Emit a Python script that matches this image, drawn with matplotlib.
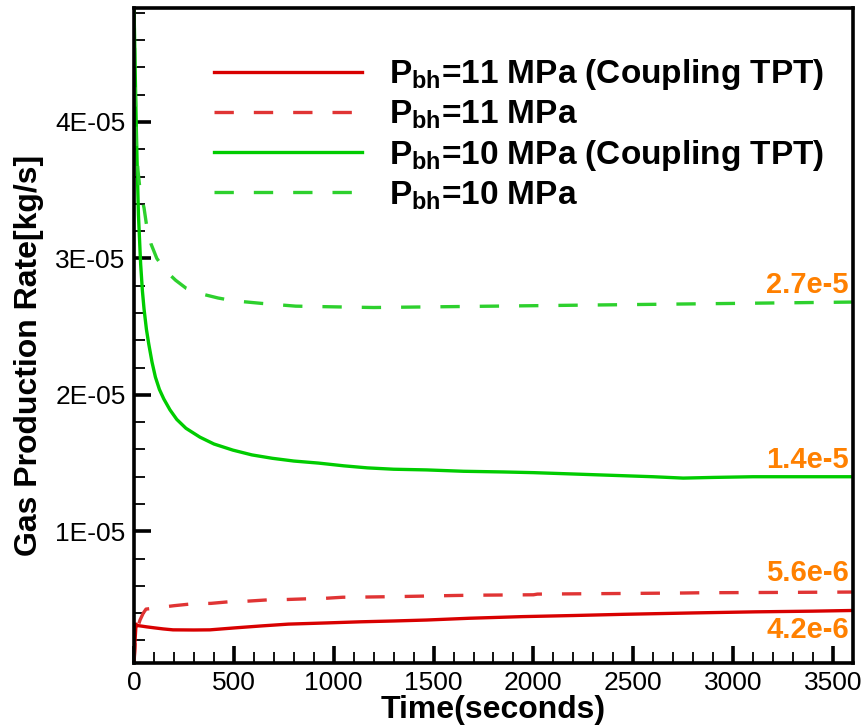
import matplotlib
matplotlib.use("Agg")
import matplotlib.pyplot as plt
from matplotlib import font_manager
from matplotlib.ticker import MultipleLocator, FixedLocator, FuncFormatter

# ---------------- data ----------------
t_g10c = [0, 3, 6, 10, 15, 22, 33, 42, 50, 62, 74, 90, 107, 127, 149, 180, 214, 260, 330,
          400, 495, 590, 693, 800, 924, 1050, 1168, 1300, 1465, 1650, 1850,
          2000, 2200, 2400, 2600, 2750, 2900, 3100, 3300, 3600]
v_g10c = [4.83, 4.6, 4.35, 4.05, 3.72, 3.32, 2.96, 2.76, 2.63, 2.48, 2.37, 2.24, 2.13,
          2.04, 1.97, 1.89, 1.82, 1.755, 1.69, 1.64, 1.595, 1.56, 1.535, 1.515, 1.50,
          1.48, 1.465, 1.455, 1.45, 1.44, 1.435, 1.43, 1.42, 1.41, 1.40, 1.39, 1.395,
          1.40, 1.40, 1.40]  # x1e-5

t_g10 = [0, 5, 12, 20, 30, 50, 64, 84, 114, 158, 208, 262, 337, 420, 495, 640, 810,
         1000, 1200, 1500, 1800, 2100, 2400, 2700, 3000, 3300, 3600]
v_g10 = [4.83, 4.3, 3.8, 3.64, 3.5, 3.37, 3.23, 3.11, 3.0, 2.91, 2.84, 2.78, 2.74,
         2.71, 2.69, 2.67, 2.65, 2.645, 2.64, 2.645, 2.65, 2.655, 2.66, 2.665, 2.67,
         2.675, 2.68]  # x1e-5

t_r11 = [0, 10, 30, 46, 60, 120, 145, 200, 300, 385, 485, 565, 673, 757, 856, 945, 1045,
         1134, 1233, 1332, 1614, 1713, 2000, 2020, 2400, 2752, 2851, 3200, 3600]
v_r11 = [0.4, 2.6, 3.5, 4.0, 4.3, 4.4, 4.45, 4.55, 4.7, 4.72, 4.85, 4.88, 4.98, 5.0, 5.05,
         5.08, 5.17, 5.18, 5.2, 5.22, 5.3, 5.32, 5.35, 5.4, 5.44, 5.48, 5.5, 5.52, 5.55]  # x1e-6

t_r11c = [0, 5, 10, 15, 40, 63, 100, 145, 195, 300, 380, 510, 640, 773, 970, 1135, 1300,
          1465, 1680, 1946, 2200, 2455, 2800, 3113, 3400, 3600]
v_r11c = [0.4, 2.0, 3.2, 3.1, 3.05, 3.0, 2.93, 2.85, 2.78, 2.77, 2.78, 2.93, 3.07, 3.2,
          3.29, 3.37, 3.43, 3.5, 3.63, 3.75, 3.83, 3.92, 4.02, 4.1, 4.15, 4.2]  # x1e-6

series_labels = [r"P$_{\mathbf{bh}}$=11 MPa (Coupling TPT)",
                 r"P$_{\mathbf{bh}}$=11 MPa",
                 r"P$_{\mathbf{bh}}$=10 MPa (Coupling TPT)",
                 r"P$_{\mathbf{bh}}$=10 MPa"]
end_texts = ["2.7e-5", "1.4e-5", "5.6e-6", "4.2e-6"]
end_values = [2.7e-5, 1.4e-5, 5.6e-6, 4.2e-6]
y_major = [1e-5, 2e-5, 3e-5, 4e-5]
x_major = [0, 500, 1000, 1500, 2000, 2500, 3000, 3500]

# ---------------- fonts ----------------
def pick(fam, fallback):
    try:
        font_manager.findfont(font_manager.FontProperties(family=fam), fallback_to_default=False)
        return fam
    except Exception:
        return fallback

FONT = pick("Liberation Sans Narrow", "Liberation Sans")
plt.rcParams['font.family'] = [FONT, 'DejaVu Sans']
plt.rcParams['mathtext.fontset'] = 'custom'
plt.rcParams['mathtext.rm'] = FONT
plt.rcParams['mathtext.bf'] = FONT + ':bold'

# ---------------- figure ----------------
fig = plt.figure(figsize=(8.62, 7.25), dpi=100)
ax = fig.add_axes([0.1555, 0.0855, 0.834, 0.9035])

RED = '#d80000'
RED_D = '#e03434'
GREEN = '#00cc00'
GREEN_D = '#2dd02d'
LW = 2.4
dash = (5.8, 6.0)

ax.plot(t_r11c, [v * 1e-6 for v in v_r11c], color=RED, lw=LW, label=series_labels[0])
ax.plot(t_r11, [v * 1e-6 for v in v_r11], color=RED_D, lw=LW, ls=(0, dash), label=series_labels[1])
ax.plot(t_g10c, [v * 1e-5 for v in v_g10c], color=GREEN, lw=LW, label=series_labels[2])
ax.plot(t_g10, [v * 1e-5 for v in v_g10], color=GREEN_D, lw=LW, ls=(0, dash), label=series_labels[3])

ax.set_xlim(0, 3600)
ax.set_ylim(0.35e-6, 4.835e-5)

ax.xaxis.set_major_locator(FixedLocator(x_major))
ax.xaxis.set_minor_locator(MultipleLocator(100))
ax.yaxis.set_major_locator(FixedLocator(y_major))
ax.yaxis.set_minor_locator(MultipleLocator(2e-6))
ax.yaxis.set_major_formatter(FuncFormatter(lambda v, p: f"{round(v / 1e-5):d}E-05"))
ax.xaxis.set_major_formatter(FuncFormatter(lambda v, p: f"{int(round(v))}"))

ax.tick_params(which='major', direction='in', length=12, width=2.6, labelsize=19,
               top=False, right=False, pad=6)
ax.tick_params(which='minor', direction='in', length=8, width=1.3, top=False, right=False)
for s in ax.spines.values():
    s.set_linewidth(2.6)

ax.set_xlabel("Time(seconds)", fontsize=23, fontweight='bold', labelpad=0)
ax.set_ylabel("Gas Production Rate[kg/s]", fontsize=23, fontweight='bold')
ax.yaxis.set_label_coords(-0.125, 0.47)

leg = ax.legend(loc='upper left', bbox_to_anchor=(0.088, 0.95), frameon=False,
                prop={'family': FONT, 'weight': 'bold', 'size': 24},
                handlelength=4.45, handletextpad=0.8, labelspacing=0.19, borderpad=0)

offsets = [10.5, 12, 13, -14]
for txt, val, off in zip(end_texts, end_values, offsets):
    ax.annotate(txt, xy=(3600, val), xytext=(-3, off), textcoords='offset points',
                ha='right', va='center', fontsize=21, fontweight='bold', color='#ff8000')

fig.savefig("out.png", dpi=100)
